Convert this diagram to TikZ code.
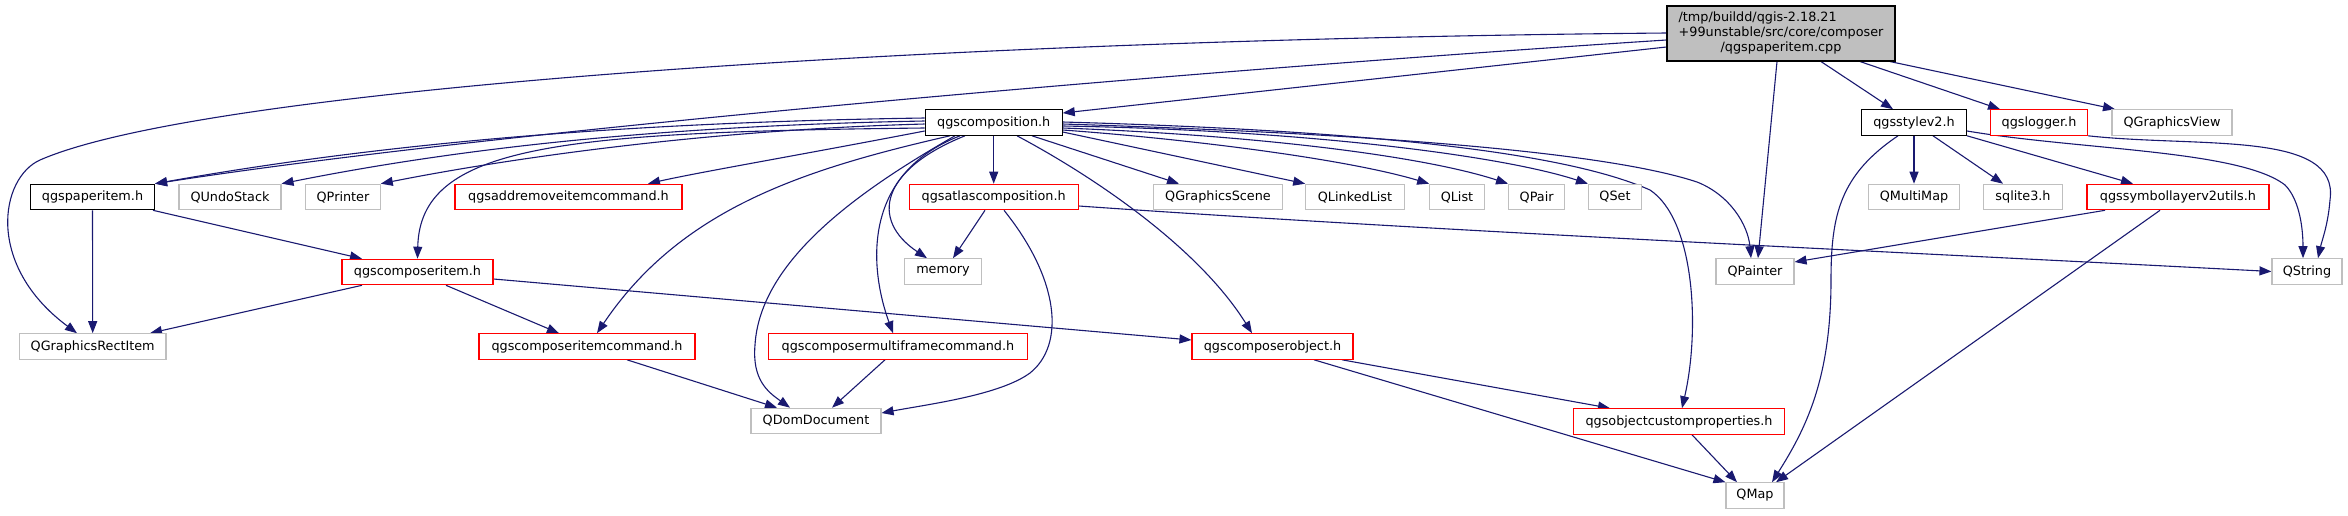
\documentclass[tikz,border=0pt]{standalone}
\usepackage{fontspec}
\setmainfont{DejaVu Sans}
\usetikzlibrary{arrows.meta}
\definecolor{edgeblue}{HTML}{191970}
\definecolor{lgrey}{HTML}{BFBFBF}
\definecolor{nred}{HTML}{FF0000}
\pgfdeclarelayer{background}
\pgfsetlayers{background,main}
\tikzset{
  box/.style={draw, line width=1.1pt, minimum height=25.5pt, inner sep=0pt,
    fill=white, text=black, font=\fontsize{12.8}{15}\selectfont},
  blk/.style={box, draw=black},
  redb/.style={box, draw=nred},
  gryb/.style={box, draw=lgrey},
  rootb/.style={box, draw=black, fill=lgrey, minimum height=55pt, minimum width=228pt},
  dep/.style={draw=edgeblue, line width=1.1pt, -{Triangle[length=12pt,width=9pt]}},
}
\begin{document}
\begin{tikzpicture}[x=1pt,y=-1pt]
\useasboundingbox (0,0) rectangle (2348,515);
% row 0
\node[rootb] (root) at (1781,33.5) {\fontsize{12.8}{14.6}\selectfont\begin{tabular}{@{}l@{}}/tmp/buildd/qgis-2.18.21\\+99unstable/src/core/composer\\\multicolumn{1}{@{}c@{}}{/qgspaperitem.cpp}\end{tabular}};
% row 1
\node[blk, minimum width=137pt] (comp) at (993.7,122.5) {qgscomposition.h};
\node[blk, minimum width=105pt] (style) at (1914,122.5) {qgsstylev2.h};
\node[redb, minimum width=97pt] (logger) at (2039,122.5) {qgslogger.h};
\node[gryb, minimum width=120pt] (gview) at (2172,122.5) {QGraphicsView};
% row 2
\node[blk, minimum width=124pt] (paper) at (92.5,197) {qgspaperitem.h};
\node[gryb, minimum width=102pt] (undo) at (230,197) {QUndoStack};
\node[gryb, minimum width=74.5pt] (printer) at (343,197) {QPrinter};
\node[redb, minimum width=227pt] (addrem) at (568.5,197) {qgsaddremoveitemcommand.h};
\node[redb, minimum width=169pt] (atlas) at (993.7,197) {qgsatlascomposition.h};
\node[gryb, minimum width=128.6pt] (gscene) at (1218,197) {QGraphicsScene};
\node[gryb, minimum width=98.5pt] (llist) at (1355,197) {QLinkedList};
\node[gryb, minimum width=54.6pt] (qlist) at (1457,197) {QList};
\node[gryb, minimum width=56pt] (qpair) at (1536.6,197) {QPair};
\node[gryb, minimum width=53pt] (qset) at (1615,197) {QSet};
\node[gryb, minimum width=91pt] (multimap) at (1914,197) {QMultiMap};
\node[gryb, minimum width=79pt] (sqlite) at (2023,197) {sqlite3.h};
\node[redb, minimum width=182pt] (symb) at (2178,197) {qgssymbollayerv2utils.h};
% row 3
\node[redb, minimum width=151pt] (compitem) at (417.5,272) {qgscomposeritem.h};
\node[gryb, minimum width=77.5pt] (memory) at (943,271.5) {memory};
\node[gryb, minimum width=78pt] (qpainter) at (1755,271.5) {QPainter};
\node[gryb, minimum width=70pt] (qstring) at (2307,271.5) {QString};
% row 4
\node[gryb, minimum width=146.6pt] (grect) at (92.7,346.5) {QGraphicsRectItem};
\node[redb, minimum width=216pt] (citemcmd) at (587,346.5) {qgscomposeritemcommand.h};
\node[redb, minimum width=258.6pt] (mfcmd) at (898,346.5) {qgscomposermultiframecommand.h};
\node[redb, minimum width=161pt] (cobj) at (1272.5,346.5) {qgscomposerobject.h};
% row 5
\node[gryb, minimum width=130pt] (domdoc) at (816,421) {QDomDocument};
\node[redb, minimum width=211pt] (ocp) at (1679,421.5) {qgsobjectcustomproperties.h};
% row 6
\node[gryb, minimum width=58pt] (qmap) at (1755,495.5) {QMap};

\begin{pgfonlayer}{background}
% root
\draw[dep] (root.west |- 0,33) .. controls (900,40) and (200,90) .. (40,160) .. controls (0,178) and (-15,265) .. (77,0 |- grect.north);
\draw[dep] (root.west |- 0,40) .. controls (1200,70) and (500,130) .. (paper.north east);
\draw[dep] (root.west |- 0,47) -- (comp.east |- 0,113);
\draw[dep] (1777,0 |- root.south) -- (1758,0 |- qpainter.north);
\draw[dep] (1821,0 |- root.south) -- (1893,0 |- style.north);
\draw[dep] (1860,0 |- root.south) -- (2000,0 |- logger.north);
\draw[dep] (1890,0 |- root.south) -- (2115,0 |- gview.north);
% composition
\draw[dep] (comp.west |- 0,118) .. controls (650,122) and (400,140) .. (paper.north east);
\draw[dep] (comp.west |- 0,121) .. controls (650,126) and (450,150) .. (undo.north east);
\draw[dep] (comp.west |- 0,124) .. controls (700,130) and (500,160) .. (printer.north east);
\draw[dep] (comp.west |- 0,131) .. controls (800,155) and (700,172) .. (648,0 |- addrem.north);
\draw[dep] (comp.west |- 0,128) .. controls (560,132) and (420,145) .. (compitem.north);
\draw[dep] (950,0 |- comp.south) .. controls (800,170) and (680,210) .. (597,0 |- citemcmd.north);
\draw[dep] (955,0 |- comp.south) .. controls (860,190) and (760,260) .. (755,345) .. controls (752,380) and (768,392) .. (790,0 |- domdoc.north);
\draw[dep] (960,0 |- comp.south) .. controls (860,175) and (870,270) .. (893,0 |- mfcmd.north);
\draw[dep] (965,0 |- comp.south) .. controls (880,170) and (870,220) .. (927,0 |- memory.north);
\draw[dep] (comp.south) -- (atlas.north);
\draw[dep] (1017,0 |- comp.south) .. controls (1100,180) and (1200,250) .. (1252,0 |- cobj.north);
\draw[dep] (1032,0 |- comp.south) -- (1179,0 |- gscene.north);
\draw[dep] (comp.east |- 0,132) -- (llist.north west);
\draw[dep] (comp.east |- 0,130) .. controls (1200,140) and (1350,160) .. (qlist.north west);
\draw[dep] (comp.east |- 0,128) .. controls (1250,135) and (1420,155) .. (qpair.north west);
\draw[dep] (comp.east |- 0,126) .. controls (1300,130) and (1500,155) .. (qset.north west);
\draw[dep] (comp.east |- 0,124) .. controls (1350,133) and (1600,150) .. (1697,182) .. controls (1730,195) and (1748,225) .. (1751,0 |- qpainter.north);
\draw[dep] (comp.east |- 0,122) .. controls (1350,130) and (1560,150) .. (1650,190) .. controls (1695,220) and (1700,330) .. (1682,0 |- ocp.north);
% atlas
\draw[dep] (985,0 |- atlas.south) -- (953,0 |- memory.north);
\draw[dep] (1004,0 |- atlas.south) .. controls (1060,280) and (1065,345) .. (1030,373) .. controls (1000,395) and (930,404) .. (domdoc.east |- 0,413);
\draw[dep] (atlas.east |- 0,206) .. controls (1450,232) and (1900,252) .. (qstring.west);
% paper item
\draw[dep] (paper.south) -- (grect.north);
\draw[dep] (153,0 |- paper.south) -- (362,0 |- compitem.north);
% composer item
\draw[dep] (362,0 |- compitem.south) -- (150,0 |- grect.north);
\draw[dep] (446,0 |- compitem.south) -- (559,0 |- citemcmd.north);
\draw[dep] (compitem.east |- 0,279) -- (cobj.west |- 0,340);
% commands
\draw[dep] (627,0 |- citemcmd.south) -- (777,0 |- domdoc.north);
\draw[dep] (885,0 |- mfcmd.south) -- (832,0 |- domdoc.north);
% composer object
\draw[dep] (1342,0 |- cobj.south) -- (1610,0 |- ocp.north);
\draw[dep] (1314,0 |- cobj.south) -- (qmap.north west);
\draw[dep] (1692,0 |- ocp.south) -- (1737,0 |- qmap.north);
% style
\draw[dep] (1898,0 |- style.south) .. controls (1840,175) and (1831,215) .. (1831,280) .. controls (1831,380) and (1805,430) .. (1772,0 |- qmap.north);
\draw[dep] (style.south) -- (multimap.north);
\draw[dep] (1933,0 |- style.south) -- (2003,0 |- sqlite.north);
\draw[dep] (style.south east) -- (2133,0 |- symb.north);
\draw[dep] (style.east |- 0,131) .. controls (2080,150) and (2240,150) .. (2285,185) .. controls (2300,200) and (2303,230) .. (2303,0 |- qstring.north);
% logger
\draw[dep] (logger.south east) .. controls (2200,148) and (2340,130) .. (2330,200) .. controls (2328,225) and (2322,240) .. (2318,0 |- qstring.north);
% symbol layer utils
\draw[dep] (2105,0 |- symb.south) -- (qpainter.east |- 0,262);
\draw[dep] (2160,0 |- symb.south) -- (1776,0 |- qmap.north);
\end{pgfonlayer}
\end{tikzpicture}
\end{document}
